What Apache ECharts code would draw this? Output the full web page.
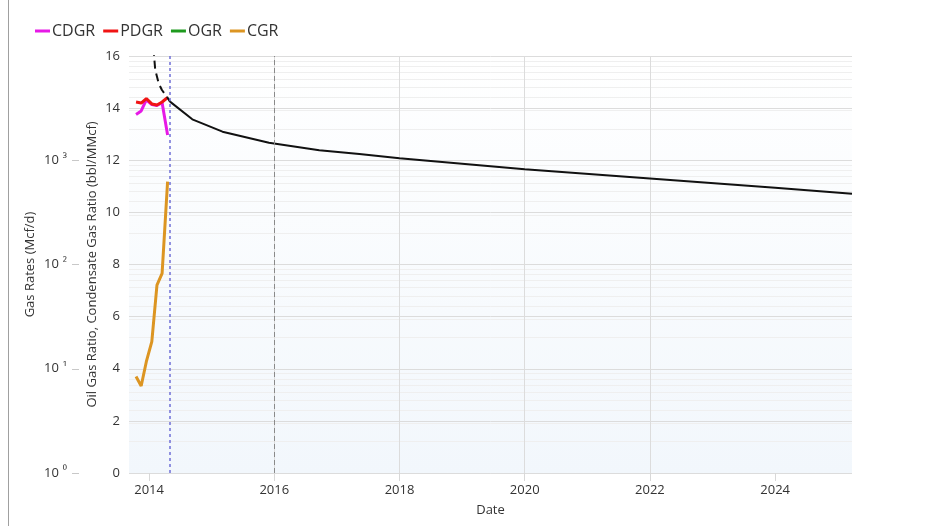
<!DOCTYPE html>
<html>
<head>
<meta charset="utf-8">
<script src="https://cdn.jsdelivr.net/npm/echarts@6/dist/echarts.min.js"></script>
<style>
  html, body { margin: 0; padding: 0; background: #ffffff; }
  #chart { width: 925px; height: 526px; }
</style>
</head>
<body>
<div id="chart"></div>
<script>
// Monthly production samples
const monthDates = ['2013-10-17', '2013-11-16', '2013-12-16', '2014-01-17', '2014-02-16', '2014-03-18', '2014-04-19'];
const cdgr = [2750, 2970, 3800, 3420, 3350, 3560, 1750];       // Mcf/d
const pdgr = [3620, 3540, 3910, 3470, 3390, 3620, 4000];       // Mcf/d
const ogr = [];                                                 // bbl/MMcf
const cgr = [3.70, 3.34, 4.27, 5.04, 7.21, 7.66, 11.18];       // bbl/MMcf

// Decline curve: back-extrapolated part and forecast part
const fitBackDates = ['2014-01-26', '2014-02-06', '2014-02-26', '2014-03-17', '2014-04-15', '2014-05-03'];
const fitBackRates = [12000, 7350, 5470, 4720, 4070, 3650];
const forecastDates = ['2014-05-03', '2014-09-10', '2015-03-05', '2015-12-01', '2016-09-20', '2017-05-12',
                       '2018-01-01', '2020-01-01', '2022-01-01', '2024-01-01', '2025-03-25'];
const forecastRates = [3650, 2470, 1880, 1470, 1250, 1150, 1045, 820, 670, 545, 476];

// Axis ticks
const yearTicks = [2014, 2016, 2018, 2020, 2022, 2024];
const logTicks = [1, 10, 100, 1000];
const xStart = '2013-09-06';
const xEnd = '2025-03-25';
const forecastStart = '2014-05-03';
const referenceDate = '2016-01-01';

const FONT = '"Open Sans", "Noto Sans", sans-serif';
const TEXT = '#333333';

// date string -> fractional year
function toYear(s) {
  const d = Date.parse(s + 'T00:00:00Z');
  const y = new Date(d).getUTCFullYear();
  const a = Date.UTC(y, 0, 1), b = Date.UTC(y + 1, 0, 1);
  return y + (d - a) / (b - a);
}
function pairs(dates, vals) {
  return vals.map((v, i) => [toYear(dates[i]), v]);
}
const sup = { 0: '⁰', 1: '¹', 2: '²', 3: '³', 4: '⁴' };

const chart = echarts.init(document.getElementById('chart'), null, { renderer: 'canvas' });

chart.setOption({
  animation: false,
  backgroundColor: '#ffffff',
  textStyle: { fontFamily: FONT },
  graphic: [{
    type: 'line',
    shape: { x1: 8.5, y1: 0, x2: 8.5, y2: 526 },
    style: { stroke: '#a0a0a0', lineWidth: 1 },
    silent: true
  }],
  legend: {
    data: ['CDGR', 'PDGR', 'OGR', 'CGR'],
    left: 30,
    top: 18,
    icon: 'rect',
    itemWidth: 15,
    itemHeight: 3,
    itemGap: 8,
    textStyle: { fontSize: 16, color: TEXT, fontFamily: FONT, padding: [0, 0, 0, -3] }
  },
  grid: {
    left: 129,
    right: 73,
    top: 56,
    bottom: 53,
    show: true,
    borderWidth: 0,
    backgroundColor: new echarts.graphic.LinearGradient(0, 0, 0, 1, [
      { offset: 0, color: '#ffffff' },
      { offset: 1, color: '#f2f7fc' }
    ])
  },
  xAxis: {
    type: 'value',
    min: toYear(xStart),
    max: toYear(xEnd),
    name: 'Date',
    nameLocation: 'middle',
    nameGap: 31,
    nameMoveOverlap: false,
    nameTextStyle: { fontSize: 13, color: TEXT, fontFamily: FONT },
    axisLine: { show: false },
    axisTick: { show: true, length: 8, customValues: yearTicks, lineStyle: { color: '#d8d8d8' } },
    axisLabel: {
      customValues: yearTicks,
      fontSize: 13, color: TEXT, fontFamily: FONT, margin: 11,
      formatter: v => String(Math.round(v))
    },
    splitLine: { show: true, showMinLine: false, showMaxLine: false, lineStyle: { color: '#dcdcdc', width: 1 } }
  },
  yAxis: [
    {
      type: 'log',
      logBase: 10,
      min: 1,
      max: 10000,
      position: 'left',
      offset: 50,
      name: 'Gas Rates (Mcf/d)',
      nameLocation: 'middle',
      nameGap: 42,
      nameMoveOverlap: false,
      nameTextStyle: { fontSize: 13, color: TEXT, fontFamily: FONT },
      axisLine: { show: false },
      axisTick: { show: true, length: 7, customValues: logTicks, lineStyle: { color: '#c8c8c8' } },
      axisLabel: {
        customValues: logTicks,
        margin: 12,
        formatter: v => '{b|10}{e|' + sup[Math.round(Math.log10(v))] + '}',
        rich: {
          b: { fontSize: 13, color: TEXT, fontFamily: FONT },
          e: { fontSize: 12, color: TEXT, fontFamily: FONT, padding: [0, 0, 2, 4] }
        }
      },
      splitLine: { show: true, lineStyle: { color: '#dcdcdc', width: 1 } },
      minorTick: { show: false, splitNumber: 9 },
      minorSplitLine: { show: true, lineStyle: { color: '#efefef', width: 1 } }
    },
    {
      type: 'value',
      min: 0,
      max: 16,
      interval: 2,
      position: 'left',
      offset: 0,
      name: 'Oil Gas Ratio, Condensate Gas Ratio (bbl/MMcf)',
      nameLocation: 'middle',
      nameGap: 30,
      nameMoveOverlap: false,
      nameTextStyle: { fontSize: 13, color: TEXT, fontFamily: FONT },
      axisLine: { show: false },
      axisTick: { show: false },
      axisLabel: { fontSize: 13, color: TEXT, fontFamily: FONT, margin: 9 },
      splitLine: { show: true, lineStyle: { color: '#dcdcdc', width: 1 } }
    }
  ],
  series: [
    {
      name: 'CDGR', type: 'line', yAxisIndex: 0, symbol: 'none',
      color: '#e619e6', lineStyle: { width: 3 },
      data: pairs(monthDates, cdgr)
    },
    {
      name: 'PDGR', type: 'line', yAxisIndex: 0, symbol: 'none',
      color: '#f01414', lineStyle: { width: 3 },
      data: pairs(monthDates, pdgr)
    },
    {
      name: 'OGR', type: 'line', yAxisIndex: 1, symbol: 'none',
      color: '#1e9a1e', lineStyle: { width: 3 },
      data: pairs(monthDates, ogr)
    },
    {
      name: 'CGR', type: 'line', yAxisIndex: 1, symbol: 'none',
      color: '#dc9522', lineStyle: { width: 3 },
      data: pairs(monthDates, cgr)
    },
    {
      name: 'Fit', type: 'line', yAxisIndex: 0, symbol: 'none',
      color: '#111111', lineStyle: { width: 2, type: [8, 5] },
      data: pairs(fitBackDates, fitBackRates)
    },
    {
      name: 'Forecast', type: 'line', yAxisIndex: 0, symbol: 'none',
      color: '#111111', lineStyle: { width: 2 },
      data: pairs(forecastDates, forecastRates),
      markLine: {
        silent: true,
        symbol: 'none',
        label: { show: false },
        data: [
          { xAxis: toYear(forecastStart), lineStyle: { color: '#6f6fd6', width: 1.5, type: [3, 3] } },
          { xAxis: toYear(referenceDate), lineStyle: { color: '#8a8a8a', width: 1, type: [5, 3] } }
        ]
      }
    }
  ]
});
</script>
</body>
</html>
